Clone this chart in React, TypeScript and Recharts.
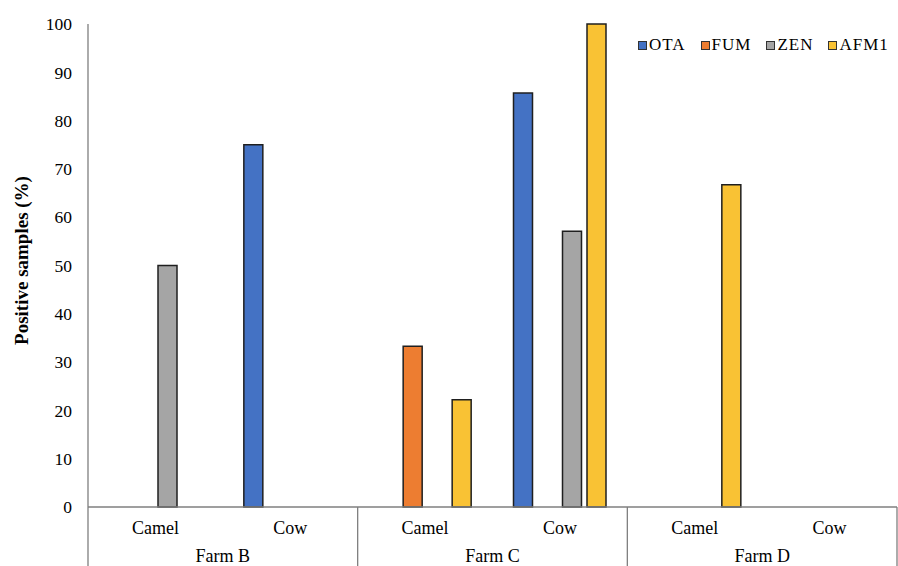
import { Bar, BarChart, Legend, XAxis, YAxis } from "recharts";

const animals = ["Camel", "Cow", "Camel", "Cow", "Camel", "Cow"];
const farms = ["Farm B", "Farm B", "Farm C", "Farm C", "Farm D", "Farm D"];

// % positive samples per mycotoxin; null = not detected (no bar)
const ota = [null, 75, null, 85.7, null, null];
const fum = [null, null, 33.3, null, null, null];
const zen = [50, null, null, 57.1, null, null];
const afm1 = [null, null, 22.2, 100, 66.7, null];

const yTicks = [0, 10, 20, 30, 40, 50, 60, 70, 80, 90, 100];

const series = [
  { key: "OTA", values: ota, color: "#4472C4" },
  { key: "FUM", values: fum, color: "#ED7D31" },
  { key: "ZEN", values: zen, color: "#A5A5A5" },
  { key: "AFM1", values: afm1, color: "#F9C234" },
];

const data = animals.map((animal, i) => {
  const row: Record<string, string | number | null> = { animal, farm: farms[i] };
  series.forEach((s) => {
    row[s.key] = s.values[i];
  });
  return row;
});

const W = 898;
const H = 566;
const MARGIN = { top: 24, right: 1, bottom: 0, left: 0 };
const Y_WIDTH = 88;
const ANIMAL_H = 30;
const FARM_H = 29;
const BAND = (W - MARGIN.left - MARGIN.right - Y_WIDTH) / animals.length;

const FONT = '"Liberation Serif", "Times New Roman", serif';
const AXIS = "#7f7f7f";

function FarmTick(props: any) {
  const { x, y, index, payload } = props;
  const top = y - ANIMAL_H;
  return (
    <g>
      {index % 2 === 0 && (
        <>
          <line x1={x - BAND / 2} x2={x - BAND / 2} y1={top} y2={H} stroke={AXIS} strokeWidth={1.3} />
          <text x={x + BAND / 2} y={y + 25} textAnchor="middle" fontFamily={FONT} fontSize={18} fill="#000">
            {payload.value}
          </text>
        </>
      )}
      {index === animals.length - 1 && (
        <line x1={x + BAND / 2} x2={x + BAND / 2} y1={top} y2={H} stroke={AXIS} strokeWidth={1.3} />
      )}
    </g>
  );
}

function YLabel(props: any) {
  const { x, y, height } = props.viewBox;
  return (
    <text
      transform={`translate(${x + 21},${y + height / 2 - 5}) rotate(-90)`}
      textAnchor="middle"
      dominantBaseline="central"
      fontFamily={FONT}
      fontSize={19}
      fontWeight="bold"
      fill="#000"
    >
      Positive samples (%)
    </text>
  );
}

function LegendBox() {
  return (
    <div style={{ display: "flex", alignItems: "center", fontFamily: FONT, fontSize: 17, letterSpacing: 1, color: "#000" }}>
      {series.map((s, i) => (
        <span key={s.key} style={{ display: "flex", alignItems: "center", marginLeft: i ? 15 : 0 }}>
          <span
            style={{
              width: 7,
              height: 7,
              background: s.color,
              border: "1px solid #333",
              marginRight: 2,
            }}
          />
          {s.key}
        </span>
      ))}
    </div>
  );
}

export default function App() {
  return (
    <div style={{ position: "absolute", left: 0, top: 0, width: W, height: H, background: "#fff" }}>
      <BarChart width={W} height={H} data={data} margin={MARGIN} barSize={19} barGap={5.5}>
        <XAxis
          dataKey="animal"
          height={ANIMAL_H}
          tickLine={false}
          tickSize={0}
          tickMargin={14}
          axisLine={{ stroke: AXIS, strokeWidth: 1.3 }}
          tick={{ fontFamily: FONT, fontSize: 18, fill: "#000" }}
          interval={0}
        />
        <XAxis
          xAxisId="farm"
          dataKey="farm"
          height={FARM_H}
          tickLine={false}
          tickSize={0}
          tickMargin={0}
          axisLine={false}
          tick={<FarmTick />}
          interval={0}
        />
        <YAxis
          width={Y_WIDTH}
          domain={[0, 100]}
          ticks={yTicks}
          interval={0}
          tickLine={false}
          tickSize={0}
          tickMargin={16}
          axisLine={{ stroke: AXIS, strokeWidth: 1.3 }}
          tick={{ fontFamily: FONT, fontSize: 17.5, fill: "#000" }}
          label={{ content: <YLabel /> }}
        />
        <Legend
          layout="horizontal"
          verticalAlign="middle"
          align="center"
          content={<LegendBox />}
          wrapperStyle={{ top: 35, left: 638, width: "auto" }}
        />
        {series.map((s) => (
          <Bar
            key={s.key}
            dataKey={s.key}
            name={s.key}
            fill={s.color}
            stroke="#1f1f1f"
            strokeWidth={1.5}
            isAnimationActive={false}
          />
        ))}
      </BarChart>
    </div>
  );
}
